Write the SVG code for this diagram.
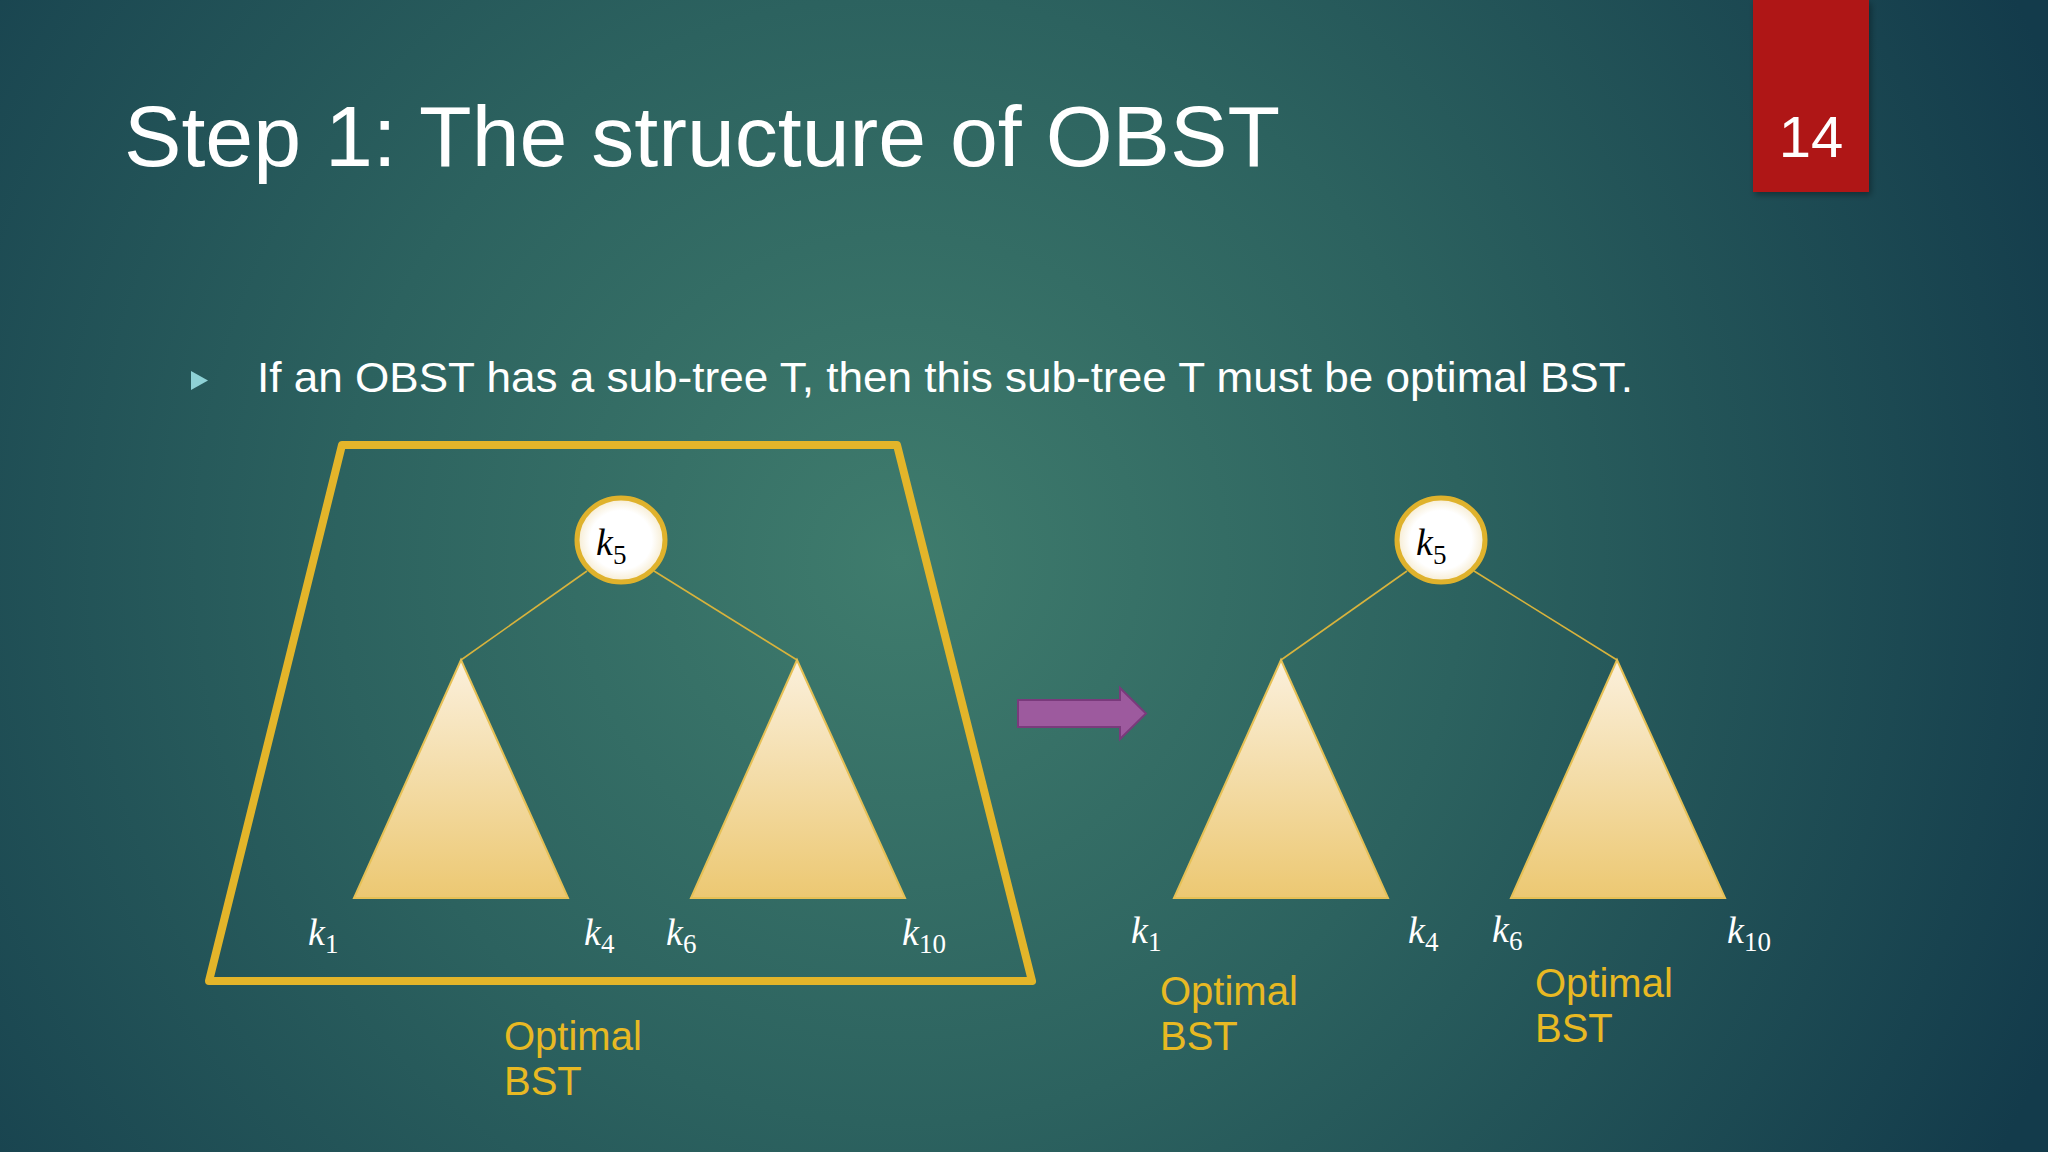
<svg xmlns="http://www.w3.org/2000/svg" width="2048" height="1152" viewBox="0 0 2048 1152">
<defs>
<radialGradient id="bg" cx="900" cy="560" r="1250" gradientUnits="userSpaceOnUse">
<stop offset="0" stop-color="#3F7C6D"/>
<stop offset="0.45" stop-color="#2C625F"/>
<stop offset="1" stop-color="#133B4B"/>
</radialGradient>
<linearGradient id="tri" x1="0" y1="0" x2="0" y2="1">
<stop offset="0" stop-color="#FBF0DC"/>
<stop offset="1" stop-color="#ECC872"/>
</linearGradient>
<radialGradient id="node" cx="0.5" cy="0.5" r="0.5">
<stop offset="0.7" stop-color="#FFFFFF"/>
<stop offset="1" stop-color="#F6EBCF"/>
</radialGradient>
<filter id="sh" x="-20%" y="-20%" width="140%" height="140%">
<feDropShadow dx="2" dy="3" stdDeviation="3" flood-color="#000" flood-opacity="0.35"/>
</filter>
<style>
.title{font-family:"Liberation Sans",Arial,sans-serif;font-size:86px;fill:#FFFFFF}
.body{font-family:"Liberation Sans",Arial,sans-serif;font-size:42px;fill:#FFFFFF}
.num{font-family:"Liberation Sans",Arial,sans-serif;font-size:58px;fill:#FFFFFF}
.lbl{font-family:"Liberation Sans",Arial,sans-serif;font-size:40px;fill:#E8B923}
.k{font-family:"Liberation Serif","DejaVu Serif",serif;font-style:italic;font-size:38px;fill:#FFFFFF}
.kn{font-family:"Liberation Serif","DejaVu Serif",serif;font-style:italic;font-size:38px;fill:#000000}
.sub{font-style:normal;font-size:27px}
.tri{fill:url(#tri);stroke:#E6C055;stroke-width:2}
.node{fill:url(#node);stroke:#DFB22C;stroke-width:5}
.edge{stroke:#D8B33C;stroke-width:1.6;fill:none}
</style>
</defs>
<rect width="2048" height="1152" fill="url(#bg)"/>

<g id="slide-number">
<rect x="1753" y="0" width="116" height="192" fill="#AF1616" filter="url(#sh)"/>
<text class="num" x="1811" y="157" text-anchor="middle">14</text>
</g>

<g id="title">
<text class="title" x="124" y="166" textLength="1156" lengthAdjust="spacingAndGlyphs">Step 1: The structure of OBST</text>
</g>

<g id="bullet">
<polygon points="191,371 191,390 208,380.5" fill="#8ED2D6"/>
<text class="body" x="257" y="392" textLength="1376" lengthAdjust="spacingAndGlyphs">If an OBST has a sub-tree T, then this sub-tree T must be optimal BST.</text>
</g>

<g id="frame">
<polygon points="342,445 897,445 1032,981 209,981" fill="none" stroke="#E3B52A" stroke-width="8" stroke-linejoin="round"/>
</g>

<g id="connectors">
<line class="edge" x1="587" y1="571" x2="461" y2="660"/>
<line class="edge" x1="654" y1="571" x2="797" y2="660"/>
<line class="edge" x1="1407" y1="571" x2="1281" y2="660"/>
<line class="edge" x1="1474" y1="571" x2="1617" y2="660"/>
</g>

<g id="left-tree">
<g id="left-subtree-l"><polygon class="tri" points="461,660 568,898 354,898"/></g>
<g id="left-subtree-r"><polygon class="tri" points="797,660 905,898 691,898"/></g>
<g id="left-root">
<ellipse class="node" cx="621" cy="540" rx="44" ry="42"/>
<text class="kn" x="596" y="555">k<tspan class="sub" dy="9">5</tspan></text>
</g>
<text class="k" x="308" y="945">k<tspan class="sub" dy="8">1</tspan></text>
<text class="k" x="584" y="945">k<tspan class="sub" dy="8">4</tspan></text>
<text class="k" x="666" y="945">k<tspan class="sub" dy="8">6</tspan></text>
<text class="k" x="902" y="945">k<tspan class="sub" dy="8">10</tspan></text>
</g>

<g id="arrow">
<polygon points="1018,700 1120,700 1120,688 1146,713.5 1120,739 1120,727 1018,727" fill="#9D5A9E" stroke="#7A3A7C" stroke-width="2"/>
</g>

<g id="right-tree">
<g id="right-subtree-l"><polygon class="tri" points="1281,660 1388,898 1174,898"/></g>
<g id="right-subtree-r"><polygon class="tri" points="1617,660 1725,898 1511,898"/></g>
<g id="right-root">
<ellipse class="node" cx="1441" cy="540" rx="44" ry="42"/>
<text class="kn" x="1416" y="555">k<tspan class="sub" dy="9">5</tspan></text>
</g>
<text class="k" x="1131" y="943">k<tspan class="sub" dy="8">1</tspan></text>
<text class="k" x="1408" y="943">k<tspan class="sub" dy="8">4</tspan></text>
<text class="k" x="1492" y="942">k<tspan class="sub" dy="8">6</tspan></text>
<text class="k" x="1727" y="943">k<tspan class="sub" dy="8">10</tspan></text>
</g>

<g id="labels">
<text class="lbl" x="504" y="1050">Optimal</text>
<text class="lbl" x="504" y="1095">BST</text>
<text class="lbl" x="1160" y="1005">Optimal</text>
<text class="lbl" x="1160" y="1050">BST</text>
<text class="lbl" x="1535" y="997">Optimal</text>
<text class="lbl" x="1535" y="1042">BST</text>
</g>
</svg>
